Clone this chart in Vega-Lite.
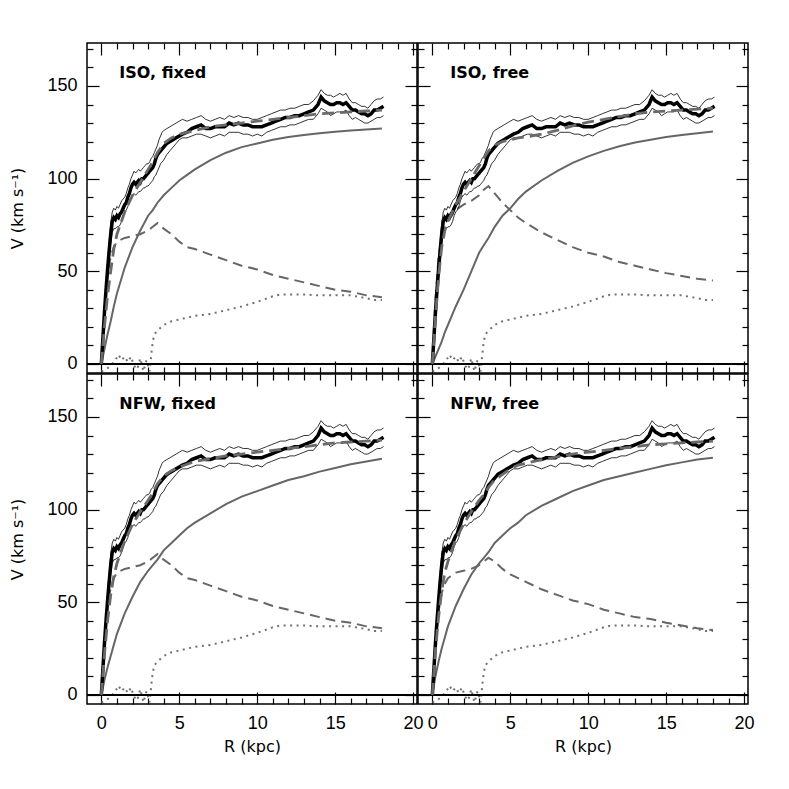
{
"$schema": "https://vega.github.io/schema/vega-lite/v6.json",
"padding": {"left": 9, "top": 39, "right": 0, "bottom": 0},
"background": "white",
"columns": 2,
"spacing": 1,
"bounds": "flush",
"datasets": {
"obs": [
{"R":0,"V":0,"lo":0,"hi":0},{"R":0.1,"V":14,"lo":12,"hi":16},{"R":0.2,"V":28,"lo":25,"hi":31},{"R":0.3,"V":40,"lo":37,"hi":43},{"R":0.4,"V":51,"lo":47,"hi":55},{"R":0.5,"V":61,"lo":56,"hi":66},{"R":0.6,"V":70,"lo":65,"hi":76},{"R":0.7,"V":77,"lo":71,"hi":82},{"R":0.8,"V":79,"lo":73,"hi":84},{"R":0.9,"V":78,"lo":73,"hi":83},{"R":1.0,"V":80,"lo":74,"hi":85},{"R":1.1,"V":79,"lo":74,"hi":84},{"R":1.2,"V":81,"lo":75,"hi":86},{"R":1.3,"V":82,"lo":77,"hi":88},{"R":1.4,"V":84,"lo":80,"hi":89},{"R":1.5,"V":86,"lo":82,"hi":90},{"R":1.6,"V":87,"lo":83,"hi":92},{"R":1.7,"V":90,"lo":85,"hi":95},{"R":1.8,"V":92,"lo":88,"hi":97},{"R":1.9,"V":95,"lo":90,"hi":100},{"R":2.0,"V":97,"lo":91,"hi":102},{"R":2.1,"V":98,"lo":92,"hi":104},{"R":2.2,"V":97,"lo":91,"hi":103},{"R":2.3,"V":98,"lo":92,"hi":104},{"R":2.4,"V":99,"lo":93,"hi":105},{"R":2.5,"V":98,"lo":93,"hi":104},{"R":2.6,"V":100,"lo":94,"hi":105},{"R":2.7,"V":100,"lo":95,"hi":106},{"R":2.8,"V":101,"lo":95,"hi":107},{"R":2.9,"V":102,"lo":96,"hi":108},{"R":3.0,"V":103,"lo":96,"hi":108},{"R":3.1,"V":104,"lo":97,"hi":109},{"R":3.2,"V":105,"lo":98,"hi":111},{"R":3.3,"V":106,"lo":99,"hi":112},{"R":3.4,"V":108,"lo":101,"hi":114},{"R":3.5,"V":111,"lo":102,"hi":116},{"R":3.6,"V":113,"lo":104,"hi":118},{"R":3.7,"V":114,"lo":106,"hi":121},{"R":3.8,"V":115,"lo":108,"hi":123},{"R":3.9,"V":116,"lo":109,"hi":125},{"R":4.0,"V":117,"lo":110,"hi":126},{"R":4.2,"V":119,"lo":113,"hi":127},{"R":4.4,"V":120,"lo":115,"hi":128},{"R":4.6,"V":121,"lo":117,"hi":129},{"R":4.8,"V":122,"lo":119,"hi":130},{"R":5.0,"V":123,"lo":121,"hi":131},{"R":5.2,"V":124,"lo":122,"hi":132},{"R":5.5,"V":125,"lo":122,"hi":131},{"R":5.8,"V":127,"lo":123,"hi":132},{"R":6.1,"V":128,"lo":124,"hi":133},{"R":6.4,"V":129,"lo":124,"hi":134},{"R":6.7,"V":127,"lo":123,"hi":132},{"R":7.0,"V":127,"lo":122,"hi":131},{"R":7.3,"V":128,"lo":123,"hi":132},{"R":7.6,"V":128,"lo":124,"hi":133},{"R":7.9,"V":128,"lo":123,"hi":132},{"R":8.2,"V":130,"lo":125,"hi":134},{"R":8.5,"V":129,"lo":125,"hi":133},{"R":8.8,"V":130,"lo":125,"hi":134},{"R":9.1,"V":129,"lo":124,"hi":133},{"R":9.4,"V":129,"lo":124,"hi":133},{"R":9.7,"V":128,"lo":123,"hi":132},{"R":10.0,"V":128,"lo":124,"hi":132},{"R":10.3,"V":128,"lo":123,"hi":133},{"R":10.6,"V":129,"lo":125,"hi":134},{"R":10.9,"V":130,"lo":126,"hi":135},{"R":11.2,"V":131,"lo":127,"hi":136},{"R":11.5,"V":132,"lo":128,"hi":137},{"R":11.8,"V":133,"lo":128,"hi":137},{"R":12.1,"V":133,"lo":129,"hi":138},{"R":12.4,"V":134,"lo":129,"hi":138},{"R":12.7,"V":134,"lo":130,"hi":139},{"R":13.0,"V":135,"lo":131,"hi":140},{"R":13.3,"V":136,"lo":132,"hi":140},{"R":13.6,"V":137,"lo":132,"hi":142},{"R":13.9,"V":140,"lo":135,"hi":145},{"R":14.1,"V":144,"lo":138,"hi":148},{"R":14.3,"V":142,"lo":137,"hi":146},{"R":14.5,"V":141,"lo":136,"hi":145},{"R":14.7,"V":140,"lo":134,"hi":145},{"R":14.9,"V":140,"lo":135,"hi":144},{"R":15.1,"V":141,"lo":136,"hi":145},{"R":15.3,"V":141,"lo":136,"hi":146},{"R":15.5,"V":140,"lo":136,"hi":145},{"R":15.7,"V":141,"lo":137,"hi":146},{"R":15.9,"V":139,"lo":134,"hi":143},{"R":16.1,"V":137,"lo":132,"hi":141},{"R":16.3,"V":137,"lo":133,"hi":141},{"R":16.5,"V":136,"lo":132,"hi":140},{"R":16.7,"V":135,"lo":131,"hi":139},{"R":16.9,"V":135,"lo":130,"hi":139},{"R":17.1,"V":134,"lo":130,"hi":138},{"R":17.3,"V":135,"lo":131,"hi":140},{"R":17.5,"V":137,"lo":132,"hi":142},{"R":17.7,"V":137,"lo":133,"hi":143},{"R":17.9,"V":138,"lo":133,"hi":143},{"R":18.1,"V":139,"lo":134,"hi":144}
],
"gas": [
{"R":0,"V":-4},{"R":0.3,"V":-3},{"R":0.6,"V":-1},{"R":0.9,"V":2},{"R":1.1,"V":5},{"R":1.3,"V":2},{"R":1.5,"V":4},{"R":1.7,"V":1},{"R":1.9,"V":4},{"R":2.1,"V":-1},{"R":2.3,"V":-3},{"R":2.5,"V":3},{"R":2.7,"V":-4},{"R":2.9,"V":2},{"R":3.1,"V":-4},{"R":3.2,"V":5},{"R":3.3,"V":12},{"R":3.4,"V":16},{"R":3.6,"V":18},{"R":4,"V":21},{"R":4.5,"V":23},{"R":5,"V":24},{"R":5.5,"V":25},{"R":6,"V":26},{"R":7,"V":27},{"R":8,"V":29},{"R":9,"V":31},{"R":10,"V":33.5},{"R":10.5,"V":35},{"R":11,"V":36.5},{"R":11.5,"V":37.5},{"R":12,"V":37.5},{"R":13,"V":37.5},{"R":14,"V":37},{"R":15,"V":37},{"R":16,"V":37},{"R":17,"V":35.5},{"R":17.5,"V":34.5},{"R":18,"V":34.5}
],
"model": [
{"p":"isofix","R":0,"halo":0,"disk":0,"total":0},{"p":"isofix","R":0.2,"halo":8,"disk":30,"total":20},{"p":"isofix","R":0.4,"halo":16,"disk":48,"total":37},{"p":"isofix","R":0.6,"halo":23,"disk":58,"total":50},{"p":"isofix","R":0.8,"halo":31,"disk":63,"total":62},{"p":"isofix","R":1,"halo":38,"disk":66,"total":70},{"p":"isofix","R":1.5,"halo":52,"disk":68,"total":82},{"p":"isofix","R":2,"halo":63,"disk":69,"total":91},{"p":"isofix","R":2.5,"halo":72,"disk":70,"total":98},{"p":"isofix","R":3,"halo":80,"disk":72,"total":105},{"p":"isofix","R":3.3,"halo":83,"disk":74,"total":109},{"p":"isofix","R":3.6,"halo":87,"disk":76,"total":114},{"p":"isofix","R":4,"halo":91,"disk":73,"total":119},{"p":"isofix","R":4.5,"halo":95,"disk":70,"total":122},{"p":"isofix","R":5,"halo":99,"disk":66,"total":124},{"p":"isofix","R":5.5,"halo":102,"disk":63,"total":125},{"p":"isofix","R":6,"halo":105,"disk":62,"total":126},{"p":"isofix","R":7,"halo":110,"disk":59,"total":128},{"p":"isofix","R":8,"halo":114,"disk":56,"total":129},{"p":"isofix","R":9,"halo":117,"disk":53,"total":130},{"p":"isofix","R":10,"halo":119,"disk":51,"total":131},{"p":"isofix","R":11,"halo":121,"disk":48,"total":132},{"p":"isofix","R":12,"halo":122.5,"disk":46,"total":133},{"p":"isofix","R":13,"halo":123.5,"disk":44,"total":134},{"p":"isofix","R":14,"halo":124.5,"disk":42,"total":135},{"p":"isofix","R":15,"halo":125.3,"disk":40,"total":135.5},{"p":"isofix","R":16,"halo":126,"disk":39,"total":136},{"p":"isofix","R":17,"halo":126.5,"disk":37,"total":136.5},{"p":"isofix","R":18,"halo":127,"disk":36,"total":137},
{"p":"isofree","R":0,"halo":0,"disk":0,"total":0},{"p":"isofree","R":0.2,"halo":4,"disk":35,"total":25},{"p":"isofree","R":0.4,"halo":8,"disk":58,"total":47},{"p":"isofree","R":0.6,"halo":12,"disk":68,"total":63},{"p":"isofree","R":0.8,"halo":17,"disk":74,"total":72},{"p":"isofree","R":1,"halo":21,"disk":77,"total":77},{"p":"isofree","R":1.5,"halo":31,"disk":83,"total":86},{"p":"isofree","R":2,"halo":40,"disk":86,"total":93},{"p":"isofree","R":2.5,"halo":50,"disk":88,"total":100},{"p":"isofree","R":3,"halo":60,"disk":91,"total":107},{"p":"isofree","R":3.3,"halo":64,"disk":94,"total":111},{"p":"isofree","R":3.6,"halo":68,"disk":96,"total":115},{"p":"isofree","R":4,"halo":74,"disk":92,"total":118},{"p":"isofree","R":4.5,"halo":80,"disk":87,"total":120},{"p":"isofree","R":5,"halo":84,"disk":83,"total":121},{"p":"isofree","R":5.5,"halo":89,"disk":79,"total":122},{"p":"isofree","R":6,"halo":93,"disk":76,"total":122.5},{"p":"isofree","R":7,"halo":99,"disk":71,"total":124},{"p":"isofree","R":8,"halo":104,"disk":67,"total":126},{"p":"isofree","R":9,"halo":108.5,"disk":63,"total":128.5},{"p":"isofree","R":10,"halo":112,"disk":60,"total":130.5},{"p":"isofree","R":11,"halo":115,"disk":58,"total":132},{"p":"isofree","R":12,"halo":117.5,"disk":55,"total":133.5},{"p":"isofree","R":13,"halo":119.5,"disk":53,"total":135},{"p":"isofree","R":14,"halo":121,"disk":51,"total":136},{"p":"isofree","R":15,"halo":122.5,"disk":49,"total":136.5},{"p":"isofree","R":16,"halo":123.5,"disk":47.5,"total":137},{"p":"isofree","R":17,"halo":124.5,"disk":46,"total":137.5},{"p":"isofree","R":18,"halo":125.5,"disk":45,"total":138},
{"p":"nfwfix","R":0,"halo":0,"disk":0,"total":0},{"p":"nfwfix","R":0.2,"halo":8,"disk":30,"total":22},{"p":"nfwfix","R":0.4,"halo":15,"disk":48,"total":40},{"p":"nfwfix","R":0.6,"halo":21,"disk":58,"total":54},{"p":"nfwfix","R":0.8,"halo":27,"disk":63,"total":64},{"p":"nfwfix","R":1,"halo":33,"disk":66,"total":71},{"p":"nfwfix","R":1.5,"halo":44,"disk":68,"total":83},{"p":"nfwfix","R":2,"halo":53,"disk":69,"total":92},{"p":"nfwfix","R":2.5,"halo":61,"disk":70,"total":99},{"p":"nfwfix","R":3,"halo":67,"disk":72,"total":105},{"p":"nfwfix","R":3.3,"halo":70,"disk":74,"total":109},{"p":"nfwfix","R":3.6,"halo":73,"disk":76,"total":114},{"p":"nfwfix","R":4,"halo":78,"disk":73,"total":118},{"p":"nfwfix","R":4.5,"halo":82,"disk":70,"total":121},{"p":"nfwfix","R":5,"halo":86,"disk":66,"total":123},{"p":"nfwfix","R":5.5,"halo":90,"disk":63,"total":124.5},{"p":"nfwfix","R":6,"halo":93,"disk":62,"total":126},{"p":"nfwfix","R":7,"halo":98,"disk":59,"total":127.5},{"p":"nfwfix","R":8,"halo":103,"disk":56,"total":129},{"p":"nfwfix","R":9,"halo":107,"disk":53,"total":130},{"p":"nfwfix","R":10,"halo":110,"disk":51,"total":131},{"p":"nfwfix","R":11,"halo":113,"disk":48,"total":132},{"p":"nfwfix","R":12,"halo":116,"disk":46,"total":133},{"p":"nfwfix","R":13,"halo":118,"disk":44,"total":134},{"p":"nfwfix","R":14,"halo":120.5,"disk":42,"total":135},{"p":"nfwfix","R":15,"halo":122.5,"disk":40,"total":136},{"p":"nfwfix","R":16,"halo":124.5,"disk":39,"total":136.5},{"p":"nfwfix","R":17,"halo":126,"disk":37,"total":137},{"p":"nfwfix","R":18,"halo":127.5,"disk":36,"total":137.5},
{"p":"nfwfree","R":0,"halo":0,"disk":0,"total":0},{"p":"nfwfree","R":0.2,"halo":10,"disk":28,"total":24},{"p":"nfwfree","R":0.4,"halo":18,"disk":45,"total":42},{"p":"nfwfree","R":0.6,"halo":25,"disk":55,"total":56},{"p":"nfwfree","R":0.8,"halo":31,"disk":60,"total":66},{"p":"nfwfree","R":1,"halo":37,"disk":63,"total":72},{"p":"nfwfree","R":1.5,"halo":48,"disk":66,"total":84},{"p":"nfwfree","R":2,"halo":57,"disk":67,"total":92},{"p":"nfwfree","R":2.5,"halo":65,"disk":68,"total":99},{"p":"nfwfree","R":3,"halo":71,"disk":70,"total":105},{"p":"nfwfree","R":3.3,"halo":74,"disk":72,"total":108},{"p":"nfwfree","R":3.6,"halo":77,"disk":74,"total":112},{"p":"nfwfree","R":4,"halo":82,"disk":72,"total":116},{"p":"nfwfree","R":4.5,"halo":86,"disk":68,"total":119},{"p":"nfwfree","R":5,"halo":90,"disk":65,"total":122},{"p":"nfwfree","R":5.5,"halo":93,"disk":63,"total":124},{"p":"nfwfree","R":6,"halo":97,"disk":61,"total":125},{"p":"nfwfree","R":7,"halo":102,"disk":57,"total":127},{"p":"nfwfree","R":8,"halo":106,"disk":54,"total":128.5},{"p":"nfwfree","R":9,"halo":110,"disk":51,"total":130},{"p":"nfwfree","R":10,"halo":113,"disk":49,"total":131},{"p":"nfwfree","R":11,"halo":116,"disk":46,"total":132},{"p":"nfwfree","R":12,"halo":118,"disk":44,"total":133},{"p":"nfwfree","R":13,"halo":120,"disk":42,"total":134},{"p":"nfwfree","R":14,"halo":122,"disk":41,"total":135},{"p":"nfwfree","R":15,"halo":124,"disk":39,"total":135.5},{"p":"nfwfree","R":16,"halo":125.5,"disk":37.5,"total":136},{"p":"nfwfree","R":17,"halo":127,"disk":36,"total":136.5},{"p":"nfwfree","R":18,"halo":128,"disk":35,"total":137}
]
},
"concat": [
{"width":330,"height":330,"resolve":{"axis":{"x":"independent","y":"independent"}},"layer":[
{"data":{"name":"gas"},"mark":{"type":"line","color":"#707070","strokeWidth":2,"strokeDash":[2,4.5]},"encoding":{"x":{"field":"R","type":"quantitative","scale":{"domain":[-0.92,20.25],"nice":false,"zero":false},"axis":{"orient":"bottom","values":[0,1,2,3,4,5,6,7,8,9,10,11,12,13,14,15,16,17,18,19,20],"tickSize":{"condition":{"test":"datum.value % 5 === 0","value":-12},"value":-6},"labels":false,"title":null}},"y":{"field":"V","type":"quantitative","scale":{"domain":[-4.9,173.2],"nice":false,"zero":false},"axis":{"orient":"left","values":[0,10,20,30,40,50,60,70,80,90,100,110,120,130,140,150,160,170],"tickSize":{"condition":{"test":"datum.value % 50 === 0","value":-12},"value":-6},"labelExpr":"datum.value % 50 === 0 ? datum.label : ''","labelPadding":22,"title":"V (km s⁻¹)","titlePadding":21}}}},
{"data":{"values":[{}]},"mark":{"type":"rule","color":"black","strokeWidth":2},"encoding":{"y":{"datum":0,"type":"quantitative","scale":{"domain":[-4.9,173.2],"nice":false,"zero":false},"axis":null}}},
{"data":{"name":"model"},"transform":[{"filter":"datum.p === 'isofix'"}],"mark":{"type":"line","color":"#666666","strokeWidth":2},"encoding":{"x":{"field":"R","type":"quantitative","scale":{"domain":[-0.92,20.25],"nice":false,"zero":false},"axis":null},"y":{"field":"halo","type":"quantitative","scale":{"domain":[-4.9,173.2],"nice":false,"zero":false},"axis":null}}},
{"data":{"name":"model"},"transform":[{"filter":"datum.p === 'isofix'"}],"mark":{"type":"line","color":"#666666","strokeWidth":2,"strokeDash":[10,6]},"encoding":{"x":{"field":"R","type":"quantitative","scale":{"domain":[-0.92,20.25],"nice":false,"zero":false},"axis":null},"y":{"field":"disk","type":"quantitative","scale":{"domain":[-4.9,173.2],"nice":false,"zero":false},"axis":null}}},
{"data":{"name":"obs"},"mark":{"type":"line","color":"black","strokeWidth":0.8},"encoding":{"x":{"field":"R","type":"quantitative","scale":{"domain":[-0.92,20.25],"nice":false,"zero":false},"axis":null},"y":{"field":"hi","type":"quantitative","scale":{"domain":[-4.9,173.2],"nice":false,"zero":false},"axis":null}}},
{"data":{"name":"obs"},"mark":{"type":"line","color":"black","strokeWidth":0.8},"encoding":{"x":{"field":"R","type":"quantitative","scale":{"domain":[-0.92,20.25],"nice":false,"zero":false},"axis":null},"y":{"field":"lo","type":"quantitative","scale":{"domain":[-4.9,173.2],"nice":false,"zero":false},"axis":null}}},
{"data":{"name":"obs"},"mark":{"type":"line","color":"black","strokeWidth":3.5},"encoding":{"x":{"field":"R","type":"quantitative","scale":{"domain":[-0.92,20.25],"nice":false,"zero":false},"axis":null},"y":{"field":"V","type":"quantitative","scale":{"domain":[-4.9,173.2],"nice":false,"zero":false},"axis":null}}},
{"data":{"name":"model"},"transform":[{"filter":"datum.p === 'isofix'"}],"mark":{"type":"line","color":"#6a6a6a","strokeWidth":2.8,"strokeDash":[12,6]},"encoding":{"x":{"field":"R","type":"quantitative","scale":{"domain":[-0.92,20.25],"nice":false,"zero":false},"axis":null},"y":{"field":"total","type":"quantitative","scale":{"domain":[-4.9,173.2],"nice":false,"zero":false},"axis":null}}},
{"data":{"values":[{"label":"ISO, fixed"}]},"mark":{"type":"text","align":"left","baseline":"alphabetic","font":"DejaVu Sans","fontWeight":"bold","fontSize":16,"color":"black"},"encoding":{"x":{"datum":1.15,"type":"quantitative","scale":{"domain":[-0.92,20.25],"nice":false,"zero":false},"axis":{"orient":"top","values":[0,1,2,3,4,5,6,7,8,9,10,11,12,13,14,15,16,17,18,19,20],"tickSize":{"condition":{"test":"datum.value % 5 === 0","value":-12},"value":-6},"labels":false,"title":null}},"y":{"datum":154.5,"type":"quantitative","scale":{"domain":[-4.9,173.2],"nice":false,"zero":false},"axis":{"orient":"right","values":[0,10,20,30,40,50,60,70,80,90,100,110,120,130,140,150,160,170],"tickSize":{"condition":{"test":"datum.value % 50 === 0","value":-12},"value":-6},"labels":false,"title":null}},"text":{"field":"label"}}}
]},
{"width":330,"height":330,"resolve":{"axis":{"x":"independent","y":"independent"}},"layer":[
{"data":{"name":"gas"},"mark":{"type":"line","color":"#707070","strokeWidth":2,"strokeDash":[2,4.5]},"encoding":{"x":{"field":"R","type":"quantitative","scale":{"domain":[-0.92,20.25],"nice":false,"zero":false},"axis":{"orient":"bottom","values":[0,1,2,3,4,5,6,7,8,9,10,11,12,13,14,15,16,17,18,19,20],"tickSize":{"condition":{"test":"datum.value % 5 === 0","value":-12},"value":-6},"labels":false,"title":null}},"y":{"field":"V","type":"quantitative","scale":{"domain":[-4.9,173.2],"nice":false,"zero":false},"axis":{"orient":"left","values":[0,10,20,30,40,50,60,70,80,90,100,110,120,130,140,150,160,170],"tickSize":{"condition":{"test":"datum.value % 50 === 0","value":-12},"value":-6},"labels":false,"title":null}}}},
{"data":{"values":[{}]},"mark":{"type":"rule","color":"black","strokeWidth":2},"encoding":{"y":{"datum":0,"type":"quantitative","scale":{"domain":[-4.9,173.2],"nice":false,"zero":false},"axis":null}}},
{"data":{"name":"model"},"transform":[{"filter":"datum.p === 'isofree'"}],"mark":{"type":"line","color":"#666666","strokeWidth":2},"encoding":{"x":{"field":"R","type":"quantitative","scale":{"domain":[-0.92,20.25],"nice":false,"zero":false},"axis":null},"y":{"field":"halo","type":"quantitative","scale":{"domain":[-4.9,173.2],"nice":false,"zero":false},"axis":null}}},
{"data":{"name":"model"},"transform":[{"filter":"datum.p === 'isofree'"}],"mark":{"type":"line","color":"#666666","strokeWidth":2,"strokeDash":[10,6]},"encoding":{"x":{"field":"R","type":"quantitative","scale":{"domain":[-0.92,20.25],"nice":false,"zero":false},"axis":null},"y":{"field":"disk","type":"quantitative","scale":{"domain":[-4.9,173.2],"nice":false,"zero":false},"axis":null}}},
{"data":{"name":"obs"},"mark":{"type":"line","color":"black","strokeWidth":0.8},"encoding":{"x":{"field":"R","type":"quantitative","scale":{"domain":[-0.92,20.25],"nice":false,"zero":false},"axis":null},"y":{"field":"hi","type":"quantitative","scale":{"domain":[-4.9,173.2],"nice":false,"zero":false},"axis":null}}},
{"data":{"name":"obs"},"mark":{"type":"line","color":"black","strokeWidth":0.8},"encoding":{"x":{"field":"R","type":"quantitative","scale":{"domain":[-0.92,20.25],"nice":false,"zero":false},"axis":null},"y":{"field":"lo","type":"quantitative","scale":{"domain":[-4.9,173.2],"nice":false,"zero":false},"axis":null}}},
{"data":{"name":"obs"},"mark":{"type":"line","color":"black","strokeWidth":3.5},"encoding":{"x":{"field":"R","type":"quantitative","scale":{"domain":[-0.92,20.25],"nice":false,"zero":false},"axis":null},"y":{"field":"V","type":"quantitative","scale":{"domain":[-4.9,173.2],"nice":false,"zero":false},"axis":null}}},
{"data":{"name":"model"},"transform":[{"filter":"datum.p === 'isofree'"}],"mark":{"type":"line","color":"#6a6a6a","strokeWidth":2.8,"strokeDash":[12,6]},"encoding":{"x":{"field":"R","type":"quantitative","scale":{"domain":[-0.92,20.25],"nice":false,"zero":false},"axis":null},"y":{"field":"total","type":"quantitative","scale":{"domain":[-4.9,173.2],"nice":false,"zero":false},"axis":null}}},
{"data":{"values":[{"label":"ISO, free"}]},"mark":{"type":"text","align":"left","baseline":"alphabetic","font":"DejaVu Sans","fontWeight":"bold","fontSize":16,"color":"black"},"encoding":{"x":{"datum":1.15,"type":"quantitative","scale":{"domain":[-0.92,20.25],"nice":false,"zero":false},"axis":{"orient":"top","values":[0,1,2,3,4,5,6,7,8,9,10,11,12,13,14,15,16,17,18,19,20],"tickSize":{"condition":{"test":"datum.value % 5 === 0","value":-12},"value":-6},"labels":false,"title":null}},"y":{"datum":154.5,"type":"quantitative","scale":{"domain":[-4.9,173.2],"nice":false,"zero":false},"axis":{"orient":"right","values":[0,10,20,30,40,50,60,70,80,90,100,110,120,130,140,150,160,170],"tickSize":{"condition":{"test":"datum.value % 50 === 0","value":-12},"value":-6},"labels":false,"title":null}},"text":{"field":"label"}}}
]},
{"width":330,"height":330,"resolve":{"axis":{"x":"independent","y":"independent"}},"layer":[
{"data":{"name":"gas"},"mark":{"type":"line","color":"#707070","strokeWidth":2,"strokeDash":[2,4.5]},"encoding":{"x":{"field":"R","type":"quantitative","scale":{"domain":[-0.92,20.25],"nice":false,"zero":false},"axis":{"orient":"bottom","values":[0,1,2,3,4,5,6,7,8,9,10,11,12,13,14,15,16,17,18,19,20],"tickSize":{"condition":{"test":"datum.value % 5 === 0","value":-12},"value":-6},"labelExpr":"datum.value % 5 === 0 ? datum.label : ''","labelPadding":22,"title":"R (kpc)","titlePadding":0}},"y":{"field":"V","type":"quantitative","scale":{"domain":[-4.9,173.2],"nice":false,"zero":false},"axis":{"orient":"left","values":[0,10,20,30,40,50,60,70,80,90,100,110,120,130,140,150,160,170],"tickSize":{"condition":{"test":"datum.value % 50 === 0","value":-12},"value":-6},"labelExpr":"datum.value % 50 === 0 ? datum.label : ''","labelPadding":22,"title":"V (km s⁻¹)","titlePadding":21}}}},
{"data":{"values":[{}]},"mark":{"type":"rule","color":"black","strokeWidth":2},"encoding":{"y":{"datum":0,"type":"quantitative","scale":{"domain":[-4.9,173.2],"nice":false,"zero":false},"axis":null}}},
{"data":{"name":"model"},"transform":[{"filter":"datum.p === 'nfwfix'"}],"mark":{"type":"line","color":"#666666","strokeWidth":2},"encoding":{"x":{"field":"R","type":"quantitative","scale":{"domain":[-0.92,20.25],"nice":false,"zero":false},"axis":null},"y":{"field":"halo","type":"quantitative","scale":{"domain":[-4.9,173.2],"nice":false,"zero":false},"axis":null}}},
{"data":{"name":"model"},"transform":[{"filter":"datum.p === 'nfwfix'"}],"mark":{"type":"line","color":"#666666","strokeWidth":2,"strokeDash":[10,6]},"encoding":{"x":{"field":"R","type":"quantitative","scale":{"domain":[-0.92,20.25],"nice":false,"zero":false},"axis":null},"y":{"field":"disk","type":"quantitative","scale":{"domain":[-4.9,173.2],"nice":false,"zero":false},"axis":null}}},
{"data":{"name":"obs"},"mark":{"type":"line","color":"black","strokeWidth":0.8},"encoding":{"x":{"field":"R","type":"quantitative","scale":{"domain":[-0.92,20.25],"nice":false,"zero":false},"axis":null},"y":{"field":"hi","type":"quantitative","scale":{"domain":[-4.9,173.2],"nice":false,"zero":false},"axis":null}}},
{"data":{"name":"obs"},"mark":{"type":"line","color":"black","strokeWidth":0.8},"encoding":{"x":{"field":"R","type":"quantitative","scale":{"domain":[-0.92,20.25],"nice":false,"zero":false},"axis":null},"y":{"field":"lo","type":"quantitative","scale":{"domain":[-4.9,173.2],"nice":false,"zero":false},"axis":null}}},
{"data":{"name":"obs"},"mark":{"type":"line","color":"black","strokeWidth":3.5},"encoding":{"x":{"field":"R","type":"quantitative","scale":{"domain":[-0.92,20.25],"nice":false,"zero":false},"axis":null},"y":{"field":"V","type":"quantitative","scale":{"domain":[-4.9,173.2],"nice":false,"zero":false},"axis":null}}},
{"data":{"name":"model"},"transform":[{"filter":"datum.p === 'nfwfix'"}],"mark":{"type":"line","color":"#6a6a6a","strokeWidth":2.8,"strokeDash":[12,6]},"encoding":{"x":{"field":"R","type":"quantitative","scale":{"domain":[-0.92,20.25],"nice":false,"zero":false},"axis":null},"y":{"field":"total","type":"quantitative","scale":{"domain":[-4.9,173.2],"nice":false,"zero":false},"axis":null}}},
{"data":{"values":[{"label":"NFW, fixed"}]},"mark":{"type":"text","align":"left","baseline":"alphabetic","font":"DejaVu Sans","fontWeight":"bold","fontSize":16,"color":"black"},"encoding":{"x":{"datum":1.15,"type":"quantitative","scale":{"domain":[-0.92,20.25],"nice":false,"zero":false},"axis":{"orient":"top","values":[0,1,2,3,4,5,6,7,8,9,10,11,12,13,14,15,16,17,18,19,20],"tickSize":{"condition":{"test":"datum.value % 5 === 0","value":-12},"value":-6},"labels":false,"title":null}},"y":{"datum":154.5,"type":"quantitative","scale":{"domain":[-4.9,173.2],"nice":false,"zero":false},"axis":{"orient":"right","values":[0,10,20,30,40,50,60,70,80,90,100,110,120,130,140,150,160,170],"tickSize":{"condition":{"test":"datum.value % 50 === 0","value":-12},"value":-6},"labels":false,"title":null}},"text":{"field":"label"}}}
]},
{"width":330,"height":330,"resolve":{"axis":{"x":"independent","y":"independent"}},"layer":[
{"data":{"name":"gas"},"mark":{"type":"line","color":"#707070","strokeWidth":2,"strokeDash":[2,4.5]},"encoding":{"x":{"field":"R","type":"quantitative","scale":{"domain":[-0.92,20.25],"nice":false,"zero":false},"axis":{"orient":"bottom","values":[0,1,2,3,4,5,6,7,8,9,10,11,12,13,14,15,16,17,18,19,20],"tickSize":{"condition":{"test":"datum.value % 5 === 0","value":-12},"value":-6},"labelExpr":"datum.value % 5 === 0 ? datum.label : ''","labelPadding":22,"title":"R (kpc)","titlePadding":0}},"y":{"field":"V","type":"quantitative","scale":{"domain":[-4.9,173.2],"nice":false,"zero":false},"axis":{"orient":"left","values":[0,10,20,30,40,50,60,70,80,90,100,110,120,130,140,150,160,170],"tickSize":{"condition":{"test":"datum.value % 50 === 0","value":-12},"value":-6},"labels":false,"title":null}}}},
{"data":{"values":[{}]},"mark":{"type":"rule","color":"black","strokeWidth":2},"encoding":{"y":{"datum":0,"type":"quantitative","scale":{"domain":[-4.9,173.2],"nice":false,"zero":false},"axis":null}}},
{"data":{"name":"model"},"transform":[{"filter":"datum.p === 'nfwfree'"}],"mark":{"type":"line","color":"#666666","strokeWidth":2},"encoding":{"x":{"field":"R","type":"quantitative","scale":{"domain":[-0.92,20.25],"nice":false,"zero":false},"axis":null},"y":{"field":"halo","type":"quantitative","scale":{"domain":[-4.9,173.2],"nice":false,"zero":false},"axis":null}}},
{"data":{"name":"model"},"transform":[{"filter":"datum.p === 'nfwfree'"}],"mark":{"type":"line","color":"#666666","strokeWidth":2,"strokeDash":[10,6]},"encoding":{"x":{"field":"R","type":"quantitative","scale":{"domain":[-0.92,20.25],"nice":false,"zero":false},"axis":null},"y":{"field":"disk","type":"quantitative","scale":{"domain":[-4.9,173.2],"nice":false,"zero":false},"axis":null}}},
{"data":{"name":"obs"},"mark":{"type":"line","color":"black","strokeWidth":0.8},"encoding":{"x":{"field":"R","type":"quantitative","scale":{"domain":[-0.92,20.25],"nice":false,"zero":false},"axis":null},"y":{"field":"hi","type":"quantitative","scale":{"domain":[-4.9,173.2],"nice":false,"zero":false},"axis":null}}},
{"data":{"name":"obs"},"mark":{"type":"line","color":"black","strokeWidth":0.8},"encoding":{"x":{"field":"R","type":"quantitative","scale":{"domain":[-0.92,20.25],"nice":false,"zero":false},"axis":null},"y":{"field":"lo","type":"quantitative","scale":{"domain":[-4.9,173.2],"nice":false,"zero":false},"axis":null}}},
{"data":{"name":"obs"},"mark":{"type":"line","color":"black","strokeWidth":3.5},"encoding":{"x":{"field":"R","type":"quantitative","scale":{"domain":[-0.92,20.25],"nice":false,"zero":false},"axis":null},"y":{"field":"V","type":"quantitative","scale":{"domain":[-4.9,173.2],"nice":false,"zero":false},"axis":null}}},
{"data":{"name":"model"},"transform":[{"filter":"datum.p === 'nfwfree'"}],"mark":{"type":"line","color":"#6a6a6a","strokeWidth":2.8,"strokeDash":[12,6]},"encoding":{"x":{"field":"R","type":"quantitative","scale":{"domain":[-0.92,20.25],"nice":false,"zero":false},"axis":null},"y":{"field":"total","type":"quantitative","scale":{"domain":[-4.9,173.2],"nice":false,"zero":false},"axis":null}}},
{"data":{"values":[{"label":"NFW, free"}]},"mark":{"type":"text","align":"left","baseline":"alphabetic","font":"DejaVu Sans","fontWeight":"bold","fontSize":16,"color":"black"},"encoding":{"x":{"datum":1.15,"type":"quantitative","scale":{"domain":[-0.92,20.25],"nice":false,"zero":false},"axis":{"orient":"top","values":[0,1,2,3,4,5,6,7,8,9,10,11,12,13,14,15,16,17,18,19,20],"tickSize":{"condition":{"test":"datum.value % 5 === 0","value":-12},"value":-6},"labels":false,"title":null}},"y":{"datum":154.5,"type":"quantitative","scale":{"domain":[-4.9,173.2],"nice":false,"zero":false},"axis":{"orient":"right","values":[0,10,20,30,40,50,60,70,80,90,100,110,120,130,140,150,160,170],"tickSize":{"condition":{"test":"datum.value % 50 === 0","value":-12},"value":-6},"labels":false,"title":null}},"text":{"field":"label"}}}
]}
],
"config": {
"view": {"stroke": "black", "strokeWidth": 1.5},
"concat": {"spacing": 1},
"axis": {"domain": false, "grid": false, "tickColor": "black", "tickWidth": 1.2, "labelFont": "Liberation Sans", "labelFontSize": 18, "labelColor": "black", "labelFlush": false, "labelOverlap": false, "titleFont": "DejaVu Sans", "titleFontSize": 16, "titleFontWeight": "normal", "titleColor": "black"}
}
}
